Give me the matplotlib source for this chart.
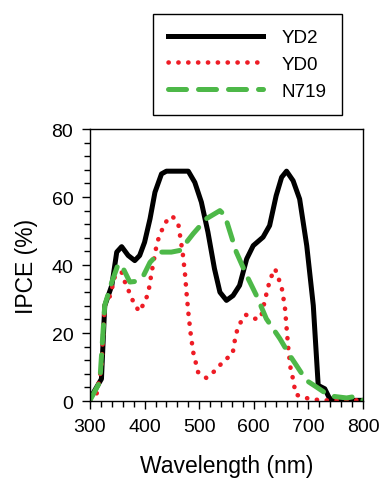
import numpy as np
import matplotlib
matplotlib.use("Agg")
import matplotlib.pyplot as plt
from matplotlib.ticker import MultipleLocator

plt.rcParams['font.family'] = ['Liberation Sans', 'DejaVu Sans']

# DATA
yd2_wl = [300, 321, 327, 340, 349, 358, 370, 382, 391, 400, 410, 419, 431, 440,
          480, 492, 504, 516, 528, 538, 550, 562, 574, 587, 599, 617, 629, 641,
          651, 660, 672, 684, 697, 709, 718, 730, 739, 760, 800]
yd2_ipce = [0.7, 6.5, 28, 34, 43.8, 45.4, 42.8, 41.3, 42.8, 46.7, 53.6, 61.4, 66.8, 67.6,
            67.6, 64.3, 58.5, 49.7, 38.9, 32, 29.6, 31, 34, 41.8, 45.7, 48.2, 51.6, 60.4,
            65.8, 67.6, 64.8, 59.4, 45.7, 28.1, 4.6, 3.6, 0.7, 0.2, 0.2]

yd0_wl = [300, 312, 321, 324, 327, 337, 346, 358, 364, 372, 379, 390, 401, 407, 413,
          423, 437, 451, 462, 470, 474, 477, 480, 484, 489, 498, 513, 532, 545, 561,
          567, 573, 585, 602, 613, 621, 630, 639, 651, 657, 660, 663, 667, 671, 677,
          695, 713, 732, 788]
yd0_ipce = [0.2, 2, 10.0, 19.3, 28.1, 31, 36.9, 37.9, 35, 32, 29.3, 26.3, 29.3, 32, 37.9,
            46.7, 52.4, 54.4, 51.8, 43.3, 37.4, 31.5, 26.2, 20.3, 14.4, 8.5, 6.8, 9.3, 11.9, 13.7,
            19.5, 22.4, 25.4, 24.2, 24.4, 30.1, 35.9, 38.9, 33.5, 27.6, 21.7, 15.9, 10, 7.1, 1.9,
            0.9, 0.4, 0.2, 0.2]

n719_wl = [300, 318, 327, 340, 352, 361, 373, 385, 398, 410, 428, 449, 465, 489, 513,
           538, 547, 568, 587, 605, 623, 648, 666, 678, 696, 715, 739, 770, 788, 800]
n719_ipce = [0.2, 5.6, 28.1, 35, 40.4, 38.9, 35, 35.2, 36.9, 40.8, 43.8, 43.8, 44.3, 49.2, 53.6,
             56, 54.6, 43.8, 36.9, 31, 24.2, 18.3, 13.4, 10.5, 6.1, 4.1, 1.5, 0.9, 1.4, 0.2]

fig = plt.figure(figsize=(3.8, 4.81), dpi=100)
ax = fig.add_axes([0.2368, 0.1642, 0.7184, 0.5655])

ax.plot(yd2_wl, yd2_ipce, color='black', lw=3.6, solid_joinstyle='round', label='YD2')
ax.plot(yd0_wl, yd0_ipce, color='#ee1c25', lw=3.3, linestyle=(0, (0.05, 2.1)),
        dash_capstyle='round', label='YD0')
ax.plot(n719_wl, n719_ipce, color='#4db848', lw=3.6, linestyle=(0, (3.6, 2.4)),
        dash_capstyle='round', label='N719')

ax.set_xlim(300, 800)
ax.set_ylim(0, 80)
ax.xaxis.set_major_locator(MultipleLocator(100))
ax.xaxis.set_minor_locator(MultipleLocator(20))
ax.yaxis.set_major_locator(MultipleLocator(20))
ax.yaxis.set_minor_locator(MultipleLocator(4))
ax.tick_params(which='major', direction='out', length=6, width=1, labelsize=14, pad=6)
ax.tick_params(which='minor', direction='out', length=4, width=1)
for s in ax.spines.values():
    s.set_linewidth(1)

ax.set_xlabel('Wavelength (nm)', fontsize=16.5, labelpad=14)
ax.set_ylabel('IPCE (%)', fontsize=16.5, labelpad=10)

fig.legend(loc='upper left', bbox_to_anchor=(153 / 380, 1 - 15 / 481), fontsize=13.6,
           handlelength=5.0, labelspacing=0.5, handletextpad=1.0, borderpad=0.8,
           fancybox=False, edgecolor='black', framealpha=1, borderaxespad=0)

fig.savefig('out.png', dpi=100)
